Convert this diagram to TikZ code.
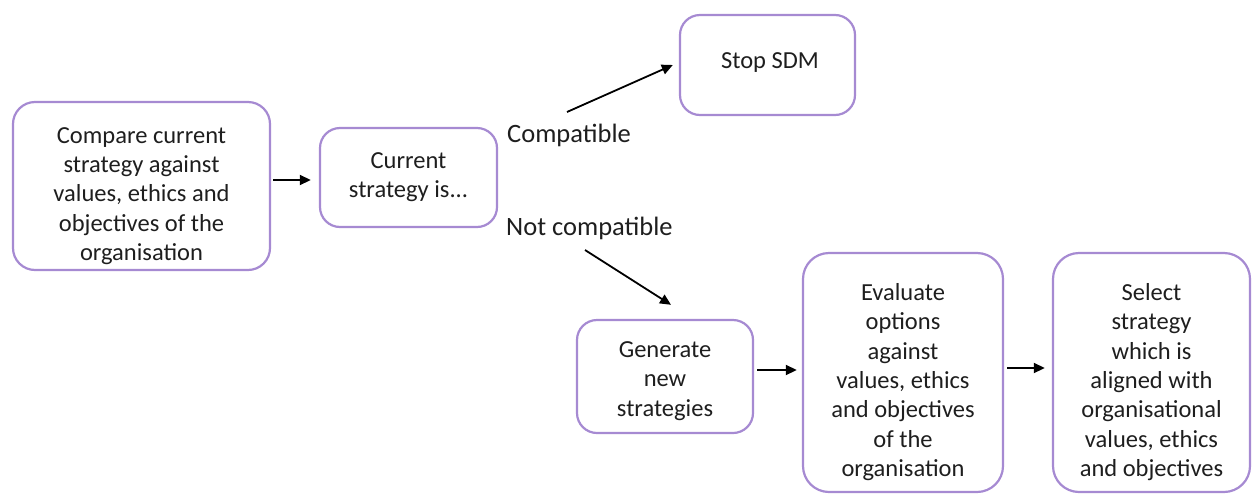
\documentclass[tikz,border=0pt]{standalone}
\usepackage{fontspec}
\setmainfont{Carlito}
\usetikzlibrary{arrows.meta,calc}
\definecolor{boxline}{RGB}{166,138,210}
\definecolor{ink}{RGB}{30,30,30}
\tikzset{
  stepbox/.style={draw=boxline, line width=2.2pt, rounded corners=22pt, inner sep=0pt},
  boxtext/.style={align=center, text=ink, inner sep=0pt,
    font=\fontsize{24.5pt}{29.3pt}\selectfont},
  lbl/.style={text=ink, inner sep=0pt, font=\fontsize{26.5pt}{30pt}\selectfont},
  arr/.style={draw=black, line width=1.8pt, -{Triangle[length=11pt,width=10pt]}}
}
\begin{document}
\begin{tikzpicture}[x=1pt,y=-1pt]
\useasboundingbox (0,0) rectangle (1255,493);

% boxes: an invisible anchor node plus its rounded outline
\node[minimum width=257pt, minimum height=168pt] (A) at (141.5,186) {};
\draw[stepbox] (13,102) rectangle (270,270);
\node[minimum width=177pt, minimum height=99pt] (B) at (408.5,177.5) {};
\draw[stepbox, rounded corners=20pt] (320,128) rectangle (497,227);
\node[minimum width=175pt, minimum height=100pt] (C) at (767.5,65) {};
\draw[stepbox, rounded corners=20pt] (680,15) rectangle (855,115);
\node[minimum width=176pt, minimum height=113pt] (D) at (665,376.5) {};
\draw[stepbox, rounded corners=20pt] (577,320) rectangle (753,433);
\node[minimum width=200pt, minimum height=239pt] (E) at (903,372.5) {};
\draw[stepbox, rounded corners=26pt] (803,253) rectangle (1003,492);
\node[minimum width=197pt, minimum height=239pt] (F) at (1151.5,372.5) {};
\draw[stepbox, rounded corners=26pt] (1053,253) rectangle (1250,492);

% box texts
\node[boxtext] (At) at (141.5,196) {Compare current\\strategy against\\values, ethics and\\objectives of the\\organisation};
\node[boxtext] (Bt) at (408.5,177) {Current\\strategy is...};
\node[boxtext] (Ct) at (770,63) {Stop SDM};
\node[boxtext] (Dt) at (665,381) {Generate\\new\\strategies};
\node[boxtext] (Et) at (903,382) {Evaluate\\options\\against\\values, ethics\\and objectives\\of the\\organisation};
\node[boxtext] (Ft) at (1151.5,382) {Select\\strategy\\which is\\aligned with\\organisational\\values, ethics\\and objectives};

% branch labels
\node[lbl, anchor=west] (comp) at (507,135) {Compatible};
\node[lbl, anchor=west] (ncomp) at (506,228) {Not compatible};
\coordinate (compStart) at (567,112);
\coordinate (ncompStart) at (585,250);

% connectors
\draw[arr] ($(A.east)+(3,-6)$) -- ($(B.west)+(-9,2.5)$);
\draw[arr] (compStart) -- ($(C.west)+(-7,0)$);
\draw[arr] (ncompStart) -- ($(D.north)+(6,-15)$);
\draw[arr] ($(D.east)+(4,-6.5)$) -- ($(E.west)+(-6,-2.5)$);
\draw[arr] ($(E.east)+(4,-4.5)$) -- ($(F.west)+(-8,-4.5)$);
\end{tikzpicture}
\end{document}
